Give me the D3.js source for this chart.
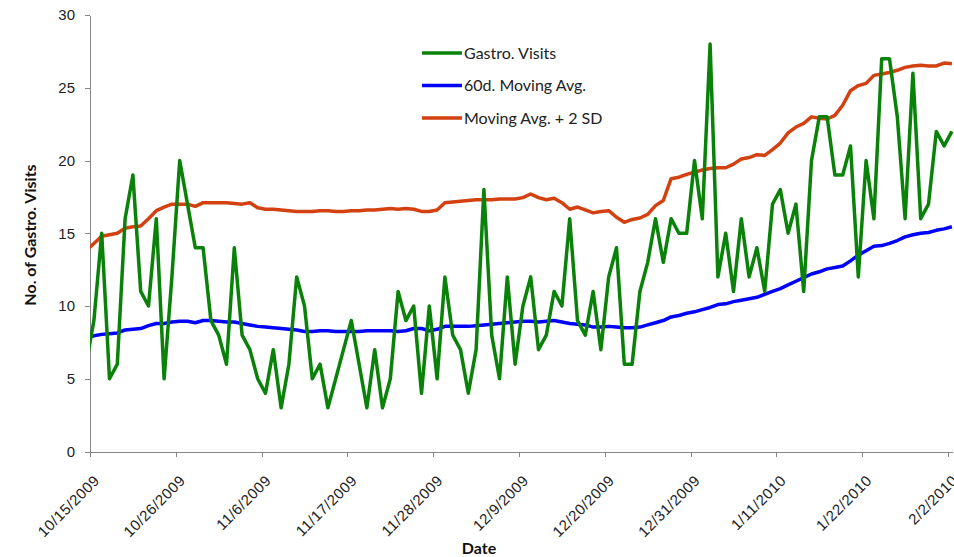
<!DOCTYPE html>
<html>
<head>
<meta charset="utf-8">
<script src="https://cdn.jsdelivr.net/npm/d3@7"></script>
<style>
  body { margin: 0; background: #fff; }
  svg { display: block; font-family: Lato, "Open Sans", sans-serif; }
  .axis path, .axis line { stroke: #868686; stroke-width: 1; shape-rendering: crispEdges; }
  .axis text { fill: #222; font-size: 15px; }
  .x-axis text { font-size: 15px; letter-spacing: 0.5px; }
  .title { font-weight: bold; font-size: 16px; fill: #111; }
  .legend text { font-size: 16px; fill: #222; }
</style>
</head>
<body>
<div id="chart"></div>
<script>

// first date is 10/14/2009 (only its segment into 10/15 shows, clipped at the axis)
var firstDay = new Date(2009, 9, 14);

// daily gastro visits
var visits = [6,
    9, 15, 5, 6, 16, 19, 11, 10, 16, 5,
    12, 20, 17, 14, 14, 9, 8, 6, 14, 8,
    7, 5, 4, 7, 3, 6, 12, 10, 5, 6,
    3, 5, 7, 9, 6, 3, 7, 3, 5, 11,
    9, 10, 4, 10, 5, 12, 8, 7, 4, 7,
    18, 8, 5, 12, 6, 10, 12, 7, 8, 11,
    10, 16, 9, 8, 11, 7, 12, 14, 6, 6,
    11, 13, 16, 13, 16, 15, 15, 20, 16, 28,
    12, 15, 11, 16, 12, 14, 11, 17, 18, 15,
    17, 11, 20, 23, 23, 19, 19, 21, 12, 20,
    16, 27, 27, 23, 16, 26, 16, 17, 22, 21,
    22];

// 60 day moving average
var movingAvg = [7.8,
    7.95, 8.05, 8.1, 8.15, 8.35, 8.4, 8.45, 8.65, 8.8, 8.8,
    8.9, 8.95, 8.95, 8.85, 9.0, 9.0, 8.95, 8.9, 8.9, 8.8,
    8.7, 8.6, 8.55, 8.5, 8.45, 8.4, 8.35, 8.25, 8.25, 8.3,
    8.3, 8.25, 8.25, 8.25, 8.25, 8.3, 8.3, 8.3, 8.3, 8.25,
    8.3, 8.45, 8.45, 8.3, 8.4, 8.6, 8.6, 8.6, 8.6, 8.65,
    8.7, 8.75, 8.8, 8.85, 8.9, 8.95, 8.95, 8.9, 8.95, 9.0,
    8.9, 8.8, 8.75, 8.7, 8.55, 8.55, 8.6, 8.55, 8.5, 8.5,
    8.55, 8.7, 8.85, 9.0, 9.25, 9.35, 9.5, 9.6, 9.75, 9.9,
    10.1, 10.15, 10.3, 10.4, 10.5, 10.6, 10.8, 11.0, 11.2, 11.45,
    11.7, 11.95, 12.2, 12.35, 12.55, 12.65, 12.75, 13.1, 13.5, 13.8,
    14.1, 14.15, 14.3, 14.5, 14.75, 14.9, 15.0, 15.05, 15.2, 15.3,
    15.45];

// moving average + 2 SD
var upperBand = [13.8,
    14.3, 14.8, 14.9, 15.0, 15.35, 15.45, 15.5, 16.0, 16.55, 16.8,
    17.0, 17.0, 17.0, 16.85, 17.1, 17.1, 17.1, 17.1, 17.05, 17.0,
    17.1, 16.75, 16.65, 16.65, 16.6, 16.55, 16.5, 16.5, 16.5, 16.55,
    16.55, 16.5, 16.5, 16.55, 16.55, 16.6, 16.6, 16.65, 16.7, 16.65,
    16.7, 16.65, 16.5, 16.5, 16.6, 17.1, 17.15, 17.2, 17.25, 17.3,
    17.3, 17.3, 17.35, 17.35, 17.35, 17.45, 17.7, 17.45, 17.3, 17.4,
    17.1, 16.65, 16.8, 16.6, 16.4, 16.5, 16.55, 16.1, 15.75, 15.95,
    16.05, 16.3, 16.9, 17.25, 18.75, 18.85, 19.05, 19.2, 19.35, 19.45,
    19.5, 19.5, 19.75, 20.1, 20.2, 20.4, 20.35, 20.75, 21.2, 21.9,
    22.3, 22.55, 23.0, 22.9, 22.85, 23.1, 23.8, 24.8, 25.15, 25.3,
    25.85, 25.95, 26.05, 26.2, 26.4, 26.5, 26.55, 26.5, 26.5, 26.7,
    26.65];

var tickLabels = ["10/15/2009", "10/26/2009", "11/6/2009", "11/17/2009", "11/28/2009",
    "12/9/2009", "12/20/2009", "12/31/2009", "1/11/2010", "1/22/2010", "2/2/2010"];
var yTicks = [0, 5, 10, 15, 20, 25, 30];

var seriesNames = ["Gastro. Visits", "60d. Moving Avg.", "Moving Avg. + 2 SD"];
var seriesColors = ["#0a820a", "#0000ff", "#d2410f"];

var width = 954, height = 557;

var svg = d3.select("#chart").append("svg")
    .attr("width", width)
    .attr("height", height);

var dates = visits.map(function(v, i) { return d3.timeDay.offset(firstDay, i); });
var tickDates = tickLabels.map(function(t) {
    var p = t.split("/");
    return new Date(+p[2], +p[0] - 1, +p[1]);
});

var x = d3.scaleTime()
    .domain([tickDates[0], tickDates[tickDates.length - 1]])
    .range([90, 948]);

var y = d3.scaleLinear()
    .domain([0, 30])
    .range([451.5, 15]);

// each day's point sits in the middle of its day
function px(i) { return x(d3.timeHour.offset(dates[i], 12)); }

svg.append("clipPath").attr("id", "plotClip")
    .append("rect")
    .attr("x", 90).attr("y", 0)
    .attr("width", width - 90).attr("height", 452);

var xAxis = d3.axisBottom(x)
    .tickValues(tickDates)
    .tickSize(5)
    .tickSizeOuter(0)
    .tickFormat(function(d, i) { return tickLabels[i]; });

var xg = svg.append("g")
    .attr("class", "x-axis axis")
    .attr("transform", "translate(0," + y(0) + ")")
    .call(xAxis);

xg.select(".domain").attr("d", "M90,0.5H953");

xg.selectAll("text")
    .style("text-anchor", "end")
    .attr("dy", 0)
    .attr("y", 0)
    .attr("transform", "translate(10,30) rotate(-45)");

var yAxis = d3.axisLeft(y)
    .tickValues(yTicks)
    .tickSize(5)
    .tickSizeOuter(0)
    .tickPadding(10);

svg.append("g")
    .attr("class", "y-axis axis")
    .attr("transform", "translate(90,0)")
    .call(yAxis);

// y axis title
svg.append("text")
    .attr("class", "title")
    .attr("text-anchor", "middle")
    .attr("transform", "translate(36,235) rotate(-90)")
    .text("No. of Gastro. Visits");

// x axis title
svg.append("text")
    .attr("class", "title")
    .attr("text-anchor", "middle")
    .attr("x", 479)
    .attr("y", 554)
    .text("Date");

var line = d3.line()
    .x(function(d, i) { return px(i); })
    .y(function(d) { return y(d); });

var plot = svg.append("g").attr("clip-path", "url(#plotClip)");

//draw bands first so visits sit on top
[upperBand, movingAvg, visits].forEach(function(s, k) {
    plot.append("path")
        .datum(s)
        .attr("fill", "none")
        .attr("stroke", seriesColors[2 - k])
        .attr("stroke-width", 3.5)
        .attr("stroke-linejoin", "round")
        .attr("d", line);
});

//legend
var legend = svg.append("g").attr("class", "legend");
seriesNames.forEach(function(name, i) {
    var ly = 53 + i * 32.5;
    legend.append("line")
        .attr("x1", 422).attr("x2", 462)
        .attr("y1", ly).attr("y2", ly)
        .attr("stroke", seriesColors[i])
        .attr("stroke-width", 3.5);
    legend.append("text")
        .attr("x", 464)
        .attr("y", ly + 5.5)
        .text(name);
});

</script>
</body>
</html>
